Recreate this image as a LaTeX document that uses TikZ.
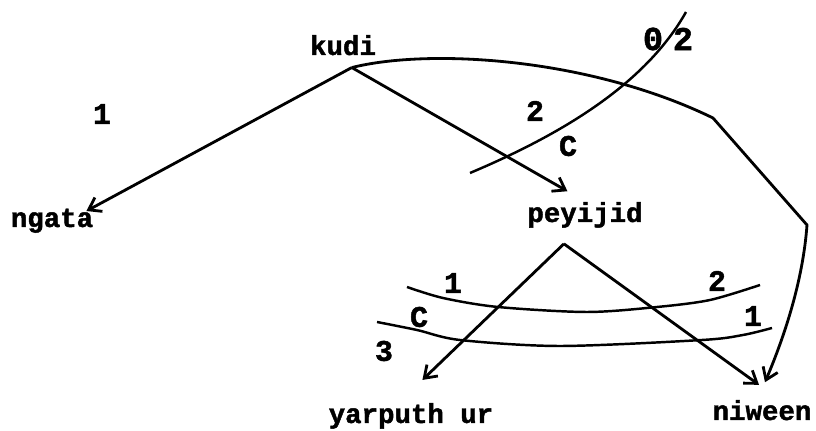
\documentclass[tikz,border=0pt]{standalone}
\usepackage{fontspec}
\newfontfamily\typewr{Liberation Mono}[BoldFeatures={FakeBold=1.6}]
\usetikzlibrary{arrows.meta, positioning}
\tikzset{
  word/.style={font=\typewr\bfseries\fontsize{15.6}{18}\selectfont, inner sep=0pt, anchor=base},
  lbl/.style={font=\typewr\bfseries\fontsize{17}{19}\selectfont, inner sep=0pt},
  biglbl/.style={font=\typewr\bfseries\fontsize{19}{21}\selectfont, inner sep=0pt},
  arr/.style={-{Straight Barb[length=6.5pt,width=9pt]}, line width=1.6pt},
  cut/.style={line width=1.4pt},
}
\begin{document}
\begin{tikzpicture}[x=0.02cm, y=-0.02cm]
  \useasboundingbox (0,0) rectangle (816,431);
  % words
  \node[word] (kudi)    at (343,55)  {kudi};
  \node[word] (ngata)   at (52,227)  {ngata};
  \node[word] (peyijid) at (585,222) {peyijid};
  \node[word] (yarputh) at (411,423) {yarputh ur};
  \node[word] (niween)  at (762,420) {niween};
  % feet of the branches
  \coordinate[below=6.8pt of kudi.south, xshift=5pt] (kudi-foot);
  \coordinate[below=9pt of peyijid.south, xshift=-12pt] (peyijid-foot);
  % branches from kudi
  \draw[arr] (kudi-foot) -- ([xshift=-4pt,yshift=-1.5pt]ngata.north east);
  \draw[arr] (kudi-foot) -- ([xshift=-10pt,yshift=6pt]peyijid.north);
  \draw[arr] (kudi-foot) .. controls (430,48) and (590,58) .. (713,118) -- (807,225)
    .. controls (803,280) and (785,335) .. ([xshift=1.7pt,yshift=10pt]niween.north);
  % branches from peyijid
  \draw[arr] (peyijid-foot) -- ([xshift=6.5pt,yshift=13pt]yarputh.north);
  \draw[arr] (peyijid-foot) -- ([xshift=-1.7pt,yshift=8.5pt]niween.north);
  % cuts
  \draw[cut] (470,173) .. controls (560,135) and (645,85) .. (686,12);
  \draw[cut] plot[smooth] coordinates {(407,287) (443,298) (498,307) (587,312) (657,307) (710,300) (760,285)};
  \draw[cut] plot[smooth] coordinates {(377,322) (417,330) (460,340) (560,346) (702,340) (743,335) (772,328)};
  % labels
  \node[lbl] (one-left) at (102,114) {1};
  \node[lbl] (two-top)  at (535,111) {2};
  \node[lbl] (c-top)    at (568,146) {C};
  \node[biglbl] (zero-cut) at (653,39) {0};
  \node[biglbl] (two-cut)  at (683,39) {2};
  \node[lbl] (one-up)   at (453,283) {1};
  \node[lbl] (two-up)   at (717,281) {2};
  \node[lbl] (c-low)    at (419,317) {C};
  \node[lbl] (one-low)  at (753,316) {1};
  \node[lbl] (three)    at (384,351) {3};
\end{tikzpicture}
\end{document}
